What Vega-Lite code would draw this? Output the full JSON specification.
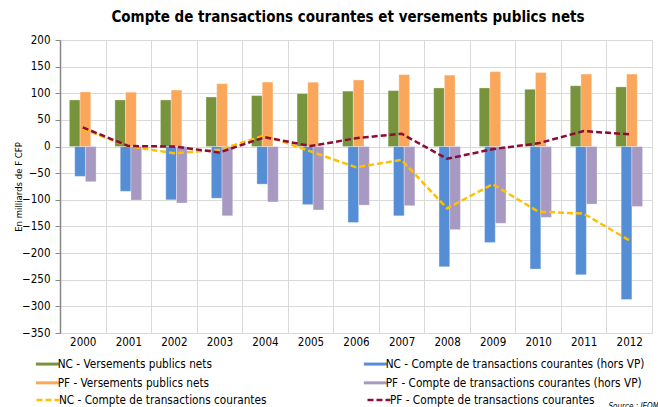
{
  "$schema": "https://vega.github.io/schema/vega-lite/v6.json",
  "width": 592,
  "height": 293,
  "autosize": {"type": "none"},
  "padding": {"left": 60, "top": 40, "right": 6, "bottom": 74},
  "background": "white",
  "title": {
    "text": "Compte de transactions courantes et versements publics nets",
    "font": "DejaVu Sans Condensed",
    "fontSize": 15,
    "fontWeight": "bold",
    "color": "#000000",
    "anchor": "middle",
    "dx": -8,
    "offset": 9
  },
  "config": {
    "view": {"stroke": "#d9d9d9", "strokeWidth": 1},
    "font": "DejaVu Sans Condensed",
    "axis": {"labelFont": "DejaVu Sans Condensed", "titleFont": "DejaVu Sans Condensed", "labelOverlap": false},
    "axisY": {"labelOverlap": false},
    "legend": {"labelFont": "DejaVu Sans Condensed"}
  },
  "datasets": {
    "bars": [
      {"year": "2000", "series": "NC - Versements publics nets", "value": 87.5},
      {"year": "2001", "series": "NC - Versements publics nets", "value": 87.5},
      {"year": "2002", "series": "NC - Versements publics nets", "value": 87.5},
      {"year": "2003", "series": "NC - Versements publics nets", "value": 93},
      {"year": "2004", "series": "NC - Versements publics nets", "value": 95.6},
      {"year": "2005", "series": "NC - Versements publics nets", "value": 99.4},
      {"year": "2006", "series": "NC - Versements publics nets", "value": 104},
      {"year": "2007", "series": "NC - Versements publics nets", "value": 105},
      {"year": "2008", "series": "NC - Versements publics nets", "value": 110},
      {"year": "2009", "series": "NC - Versements publics nets", "value": 110},
      {"year": "2010", "series": "NC - Versements publics nets", "value": 107.5},
      {"year": "2011", "series": "NC - Versements publics nets", "value": 114},
      {"year": "2012", "series": "NC - Versements publics nets", "value": 112},
      {"year": "2000", "series": "NC - Compte de transactions courantes (hors VP)", "value": -56},
      {"year": "2001", "series": "NC - Compte de transactions courantes (hors VP)", "value": -84},
      {"year": "2002", "series": "NC - Compte de transactions courantes (hors VP)", "value": -100},
      {"year": "2003", "series": "NC - Compte de transactions courantes (hors VP)", "value": -97},
      {"year": "2004", "series": "NC - Compte de transactions courantes (hors VP)", "value": -70.6},
      {"year": "2005", "series": "NC - Compte de transactions courantes (hors VP)", "value": -109},
      {"year": "2006", "series": "NC - Compte de transactions courantes (hors VP)", "value": -142.5},
      {"year": "2007", "series": "NC - Compte de transactions courantes (hors VP)", "value": -130},
      {"year": "2008", "series": "NC - Compte de transactions courantes (hors VP)", "value": -225.6},
      {"year": "2009", "series": "NC - Compte de transactions courantes (hors VP)", "value": -180},
      {"year": "2010", "series": "NC - Compte de transactions courantes (hors VP)", "value": -230},
      {"year": "2011", "series": "NC - Compte de transactions courantes (hors VP)", "value": -240.6},
      {"year": "2012", "series": "NC - Compte de transactions courantes (hors VP)", "value": -287},
      {"year": "2000", "series": "PF - Versements publics nets", "value": 102.5},
      {"year": "2001", "series": "PF - Versements publics nets", "value": 102},
      {"year": "2002", "series": "PF - Versements publics nets", "value": 106},
      {"year": "2003", "series": "PF - Versements publics nets", "value": 118},
      {"year": "2004", "series": "PF - Versements publics nets", "value": 121},
      {"year": "2005", "series": "PF - Versements publics nets", "value": 120.6},
      {"year": "2006", "series": "PF - Versements publics nets", "value": 125},
      {"year": "2007", "series": "PF - Versements publics nets", "value": 135},
      {"year": "2008", "series": "PF - Versements publics nets", "value": 134},
      {"year": "2009", "series": "PF - Versements publics nets", "value": 140.6},
      {"year": "2010", "series": "PF - Versements publics nets", "value": 139},
      {"year": "2011", "series": "PF - Versements publics nets", "value": 136},
      {"year": "2012", "series": "PF - Versements publics nets", "value": 136},
      {"year": "2000", "series": "PF - Compte de transactions courantes (hors VP)", "value": -66},
      {"year": "2001", "series": "PF - Compte de transactions courantes (hors VP)", "value": -100.6},
      {"year": "2002", "series": "PF - Compte de transactions courantes (hors VP)", "value": -106},
      {"year": "2003", "series": "PF - Compte de transactions courantes (hors VP)", "value": -130},
      {"year": "2004", "series": "PF - Compte de transactions courantes (hors VP)", "value": -104},
      {"year": "2005", "series": "PF - Compte de transactions courantes (hors VP)", "value": -119},
      {"year": "2006", "series": "PF - Compte de transactions courantes (hors VP)", "value": -110},
      {"year": "2007", "series": "PF - Compte de transactions courantes (hors VP)", "value": -111},
      {"year": "2008", "series": "PF - Compte de transactions courantes (hors VP)", "value": -156},
      {"year": "2009", "series": "PF - Compte de transactions courantes (hors VP)", "value": -144},
      {"year": "2010", "series": "PF - Compte de transactions courantes (hors VP)", "value": -133},
      {"year": "2011", "series": "PF - Compte de transactions courantes (hors VP)", "value": -108},
      {"year": "2012", "series": "PF - Compte de transactions courantes (hors VP)", "value": -112.5}
    ],
    "lines": [
      {"year": "2000", "series": "NC - Compte de transactions courantes", "value": 33},
      {"year": "2001", "series": "NC - Compte de transactions courantes", "value": 0.5},
      {"year": "2002", "series": "NC - Compte de transactions courantes", "value": -12.5},
      {"year": "2003", "series": "NC - Compte de transactions courantes", "value": -6},
      {"year": "2004", "series": "NC - Compte de transactions courantes", "value": 21},
      {"year": "2005", "series": "NC - Compte de transactions courantes", "value": -9},
      {"year": "2006", "series": "NC - Compte de transactions courantes", "value": -39},
      {"year": "2007", "series": "NC - Compte de transactions courantes", "value": -25},
      {"year": "2008", "series": "NC - Compte de transactions courantes", "value": -116},
      {"year": "2009", "series": "NC - Compte de transactions courantes", "value": -70.6},
      {"year": "2010", "series": "NC - Compte de transactions courantes", "value": -122},
      {"year": "2011", "series": "NC - Compte de transactions courantes", "value": -126},
      {"year": "2012", "series": "NC - Compte de transactions courantes", "value": -176},
      {"year": "2000", "series": "PF - Compte de transactions courantes", "value": 36},
      {"year": "2001", "series": "PF - Compte de transactions courantes", "value": 1},
      {"year": "2002", "series": "PF - Compte de transactions courantes", "value": 0},
      {"year": "2003", "series": "PF - Compte de transactions courantes", "value": -11},
      {"year": "2004", "series": "PF - Compte de transactions courantes", "value": 17.5},
      {"year": "2005", "series": "PF - Compte de transactions courantes", "value": 1},
      {"year": "2006", "series": "PF - Compte de transactions courantes", "value": 15.6},
      {"year": "2007", "series": "PF - Compte de transactions courantes", "value": 24},
      {"year": "2008", "series": "PF - Compte de transactions courantes", "value": -23},
      {"year": "2009", "series": "PF - Compte de transactions courantes", "value": -5},
      {"year": "2010", "series": "PF - Compte de transactions courantes", "value": 6},
      {"year": "2011", "series": "PF - Compte de transactions courantes", "value": 29},
      {"year": "2012", "series": "PF - Compte de transactions courantes", "value": 23}
    ]
  },
  "encoding": {
    "x": {
      "field": "year",
      "type": "ordinal",
      "scale": {"paddingInner": 0, "paddingOuter": 0},
      "axis": {
        "tickBand": "extent",
        "grid": true,
        "gridColor": "#d9d9d9",
        "gridWidth": 1,
        "ticks": false,
        "domain": false,
        "labelAngle": 0,
        "labelFontSize": 11.5,
        "labelColor": "#000000",
        "labelPadding": 3,
        "title": "Source : IEOM",
        "titleFontSize": 8,
        "titleFontStyle": "italic",
        "titleFontWeight": "normal",
        "titleColor": "#000000",
        "titleAlign": "left",
        "titleBaseline": "alphabetic",
        "titleX": 548,
        "titleY": 75
      }
    },
    "y": {
      "field": "value",
      "type": "quantitative",
      "scale": {"domain": [-350, 200], "nice": false, "zero": false},
      "axis": {
        "values": [-350, -300, -250, -200, -150, -100, -50, 0, 50, 100, 150, 200],
        "labelOverlap": false,
        "grid": true,
        "gridColor": "#d9d9d9",
        "domain": true,
        "domainColor": "#868686",
        "domainWidth": 1.5,
        "ticks": true,
        "tickColor": "#868686",
        "tickSize": 5,
        "labelFontSize": 11.5,
        "labelColor": "#000000",
        "labelPadding": 5,
        "title": "En milliards de F CFP",
        "titleFontSize": 9.5,
        "titleFontWeight": "normal",
        "titleColor": "#000000",
        "titlePadding": -2
      }
    }
  },
  "layer": [
    {
      "data": {"name": "bars"},
      "mark": {"type": "bar", "size": 10.7, "stroke": "#ffffff", "strokeOpacity": 0.5, "strokeWidth": 0.6},
      "encoding": {
        "xOffset": {
          "field": "series",
          "type": "nominal",
          "scale": {
            "domain": [
              "NC - Versements publics nets",
              "NC - Compte de transactions courantes (hors VP)",
              "PF - Versements publics nets",
              "PF - Compte de transactions courantes (hors VP)"
            ],
            "range": [12.05, 33.45],
            "paddingInner": 0,
            "paddingOuter": 0
          }
        },
        "fill": {
          "field": "series",
          "type": "nominal",
          "scale": {
            "domain": [
              "NC - Versements publics nets",
              "NC - Compte de transactions courantes (hors VP)",
              "PF - Versements publics nets",
              "PF - Compte de transactions courantes (hors VP)"
            ],
            "range": ["#77933C", "#558ED5", "#FAA75B", "#A899C3"]
          },
          "legend": {
            "orient": "none",
            "legendX": -18.5,
            "legendY": 318,
            "direction": "horizontal",
            "columns": 2,
            "columnPadding": 151,
            "rowPadding": 6,
            "title": null,
            "symbolType": "M-2.3,-0.3H2.3V0.3H-2.3Z",
            "symbolSize": 100,
            "symbolStrokeWidth": 0,
            "labelFontSize": 11.7,
            "labelColor": "#000000",
            "labelOffset": 4.5,
            "labelLimit": 400
          }
        }
      }
    },
    {
      "data": {"values": [{}]},
      "mark": {"type": "rule", "color": "#868686", "strokeWidth": 1.5},
      "encoding": {"x": null, "y": {"datum": 0}}
    },
    {
      "data": {"name": "lines"},
      "mark": {"type": "line", "strokeWidth": 2.5, "strokeDash": [6, 3], "interpolate": "linear"},
      "encoding": {
        "stroke": {
          "field": "series",
          "type": "nominal",
          "scale": {
            "domain": ["NC - Compte de transactions courantes", "PF - Compte de transactions courantes"],
            "range": ["#FFC000", "#8C0C36"]
          },
          "legend": {
            "orient": "none",
            "legendX": -18.5,
            "legendY": 353,
            "direction": "horizontal",
            "columns": 2,
            "columnPadding": 96,
            "title": null,
            "symbolType": "M-2.3,0H2.3",
            "symbolSize": 100,
            "symbolStrokeWidth": 2.5,
            "symbolDash": [6, 3],
            "labelFontSize": 11.7,
            "labelColor": "#000000",
            "labelOffset": 4.5,
            "labelLimit": 400
          }
        }
      }
    }
  ]
}
